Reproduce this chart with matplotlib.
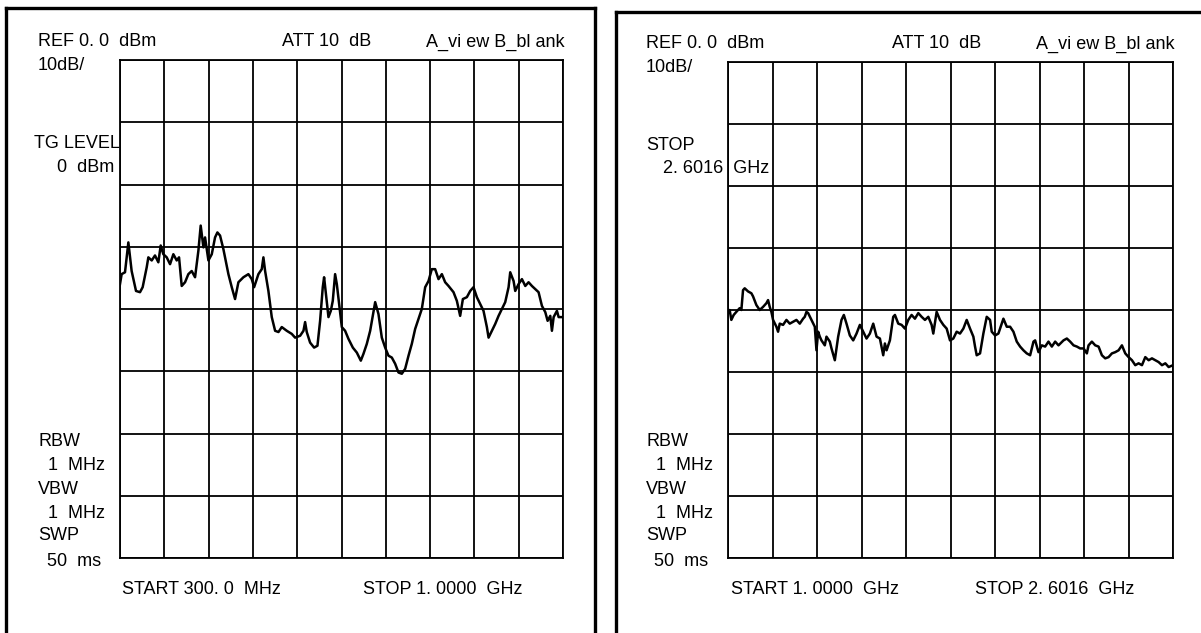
import numpy as np
import matplotlib
matplotlib.use("Agg")
import matplotlib.pyplot as plt
from matplotlib.lines import Line2D

# sweep 1: 300 MHz .. 1 GHz
freq1 = [300.0, 302.6, 307.9, 313.2, 318.4, 325.3, 331.6, 335.8, 342.2, 344.8,
         350.1, 355.3, 360.6, 364.3, 368.5, 373.8, 379.1, 384.3, 389.6, 393.3,
         397.5, 402.8, 408.0, 413.3, 418.6, 423.9, 427.5, 431.8, 434.4, 439.7,
         445.0, 450.2, 453.9, 458.1, 463.4, 471.3, 476.6, 481.8, 487.1, 495.0,
         502.9, 508.2, 511.9, 518.7, 524.0, 526.6, 529.3, 534.5, 539.8, 545.1,
         550.4, 555.6, 563.5, 571.4, 576.7, 584.6, 589.9, 592.5, 595.1, 600.4,
         606.7, 612.0, 616.2, 620.4, 622.5, 626.7, 629.4, 633.1, 636.2, 639.9,
         642.6, 646.8, 650.5, 655.7, 661.0, 667.9, 674.2, 680.5, 684.7, 690.0,
         695.3, 700.5, 703.2, 708.4, 713.7, 719.0, 724.2, 729.5, 734.8, 740.0,
         745.3, 750.6, 755.9, 761.1, 766.4, 771.7, 776.9, 782.2, 787.5, 792.7,
         798.0, 803.3, 808.6, 813.8, 819.1, 827.0, 832.3, 837.5, 841.8, 848.1,
         853.4, 858.6, 863.9, 869.2, 874.4, 879.7, 882.4, 887.6, 892.9, 898.2,
         903.4, 908.7, 914.0, 916.6, 921.9, 924.5, 929.8, 935.1, 940.4, 945.6,
         950.9, 956.2, 961.4, 966.7, 972.0, 975.7, 979.9, 982.5, 985.2, 990.4,
         993.1, 1000.0]
level1 = [-36.0, -34.4, -34.1, -29.3, -33.9, -37.1, -37.3, -36.5, -33.3, -31.7,
          -32.2, -31.4, -32.5, -29.8, -31.2, -31.7, -32.8, -31.2, -32.2, -31.7,
          -36.3, -35.7, -34.4, -33.9, -34.9, -30.6, -26.6, -30.1, -28.5, -32.2,
          -31.2, -28.5, -27.7, -28.2, -30.4, -34.4, -36.5, -38.4, -35.7, -34.9,
          -34.4, -35.2, -36.5, -34.4, -33.6, -31.7, -33.9, -37.1, -41.3, -43.5,
          -43.7, -42.9, -43.5, -44.0, -44.6, -44.3, -43.5, -42.1, -43.7, -45.4,
          -46.2, -45.9, -41.9, -36.5, -34.9, -38.7, -41.3, -40.3, -38.7, -34.4,
          -36.0, -39.7, -42.9, -43.5, -44.8, -46.2, -47.0, -48.3, -47.2, -45.6,
          -43.5, -40.5, -38.9, -40.8, -44.6, -46.2, -47.5, -47.8, -48.8, -50.2,
          -50.4, -49.6, -47.5, -45.6, -43.2, -41.6, -40.0, -36.5, -35.5, -33.6,
          -33.6, -35.2, -34.4, -35.7, -36.3, -37.3, -38.7, -41.1, -38.4, -38.1,
          -37.1, -36.5, -38.1, -39.2, -40.3, -42.9, -44.6, -43.5, -42.4, -41.1,
          -40.0, -38.9, -36.5, -34.1, -35.5, -37.1, -36.0, -35.2, -36.3, -35.7,
          -36.3, -36.8, -37.3, -39.5, -40.5, -41.9, -41.1, -43.5, -41.3, -40.3,
          -41.3, -41.3]

# sweep 2: 1 GHz .. 2.6016 GHz
freq2 = [1000.0, 1006.0, 1012.0, 1020.4, 1030.0, 1042.1, 1048.1, 1054.1, 1060.1, 1072.1,
         1084.1, 1090.1, 1102.1, 1114.1, 1126.2, 1138.2, 1144.2, 1150.2, 1156.2, 1162.2,
         1174.2, 1180.2, 1186.2, 1198.2, 1210.3, 1222.3, 1234.3, 1246.3, 1258.3, 1270.3,
         1276.3, 1282.4, 1288.4, 1300.4, 1312.4, 1318.4, 1324.4, 1330.4, 1336.4, 1348.4,
         1354.4, 1366.5, 1372.5, 1384.5, 1396.5, 1408.5, 1416.9, 1426.5, 1438.5, 1450.6,
         1462.6, 1474.6, 1486.6, 1498.6, 1510.6, 1522.7, 1534.7, 1546.7, 1558.7, 1564.7,
         1570.7, 1582.7, 1594.7, 1600.8, 1612.8, 1624.8, 1636.8, 1648.8, 1660.8, 1672.8,
         1684.9, 1696.9, 1708.9, 1720.9, 1732.9, 1738.9, 1750.9, 1763.0, 1775.0, 1787.0,
         1799.0, 1811.0, 1823.0, 1835.0, 1847.1, 1859.1, 1871.1, 1883.1, 1889.1, 1895.1,
         1907.1, 1919.1, 1931.2, 1943.2, 1949.2, 1961.2, 1973.2, 1991.2, 2003.3, 2015.3,
         2027.3, 2039.3, 2051.3, 2063.3, 2075.3, 2087.4, 2099.4, 2105.4, 2117.4, 2129.4,
         2141.4, 2153.4, 2165.5, 2177.5, 2189.5, 2207.5, 2219.5, 2231.5, 2243.6, 2255.6,
         2267.6, 2279.6, 2291.6, 2297.6, 2309.6, 2321.7, 2333.7, 2345.7, 2357.7, 2369.7,
         2381.7, 2393.7, 2405.8, 2417.8, 2429.8, 2441.8, 2453.8, 2465.8, 2477.8, 2489.9,
         2501.9, 2513.9, 2525.9, 2537.9, 2549.9, 2561.9, 2574.0, 2586.0, 2601.6]
level2 = [-40.5, -40.0, -41.6, -40.8, -40.3, -39.7, -40.0, -36.8, -36.5, -37.0,
          -37.3, -37.8, -39.2, -40.0, -39.5, -38.9, -38.4, -39.5, -40.3, -41.6,
          -42.7, -43.5, -42.2, -42.4, -41.6, -42.2, -41.9, -41.6, -42.2, -41.4,
          -41.1, -40.3, -40.5, -41.6, -42.7, -46.5, -43.5, -44.3, -44.9, -45.7,
          -44.3, -45.1, -46.2, -48.1, -44.3, -41.6, -40.8, -42.2, -44.1, -44.9,
          -43.8, -42.4, -43.5, -44.6, -43.8, -42.2, -44.3, -44.6, -47.3, -45.4,
          -46.5, -44.9, -41.1, -40.8, -42.2, -42.4, -43.0, -41.6, -40.8, -41.4,
          -40.5, -41.1, -41.6, -41.1, -42.4, -43.8, -40.3, -41.6, -42.4, -43.0,
          -44.9, -44.6, -43.5, -43.8, -43.0, -41.6, -43.0, -44.3, -45.9, -47.3,
          -47.0, -43.8, -41.1, -41.6, -43.5, -44.1, -43.8, -41.4, -42.7, -42.7,
          -43.5, -45.1, -45.9, -46.5, -47.0, -47.3, -45.1, -44.9, -46.8, -45.7,
          -45.9, -45.1, -45.9, -45.1, -45.7, -44.9, -44.6, -45.1, -45.7, -45.9,
          -46.2, -46.2, -47.0, -45.7, -45.1, -45.7, -45.9, -47.3, -47.8, -47.6,
          -47.0, -46.8, -46.5, -45.7, -47.0, -47.6, -48.1, -48.9, -48.6, -48.9,
          -47.6, -48.1, -47.8, -48.1, -48.4, -48.9, -48.6, -49.2, -48.9]

W, H = 1201, 633
FONT = ['Liberation Sans Narrow', 'Liberation Sans', 'DejaVu Sans']
FS = 13

fig = plt.figure(figsize=(W / 100, H / 100), dpi=100)


def put(x, y, s, ha='left'):
    fig.text(x / W, 1 - y / H, s, ha=ha, va='center', fontsize=FS, family=FONT, color='k')


def frame(x0, x1, ytop):
    kw = dict(transform=fig.transFigure, color='k', lw=2.4, solid_capstyle='projecting')
    fig.add_artist(Line2D([x0 / W, x0 / W], [0, 1 - ytop / H], **kw))
    fig.add_artist(Line2D([x0 / W, x1 / W], [1 - ytop / H, 1 - ytop / H], **kw))
    fig.add_artist(Line2D([x1 / W, x1 / W], [0, 1 - ytop / H], **kw))


def screen(rect, f0, f1, freq, level):
    ax = fig.add_axes(rect)
    ax.plot(freq, level, color='k', lw=1.8)
    ax.set_xlim(f0, f1)
    ax.set_ylim(-80, 0)
    ax.set_xticks(np.linspace(f0, f1, 11))
    ax.set_yticks(np.arange(-80, 1, 10))
    ax.grid(True, color='k', lw=1.3)
    ax.tick_params(length=0, labelbottom=False, labelleft=False)
    for sp in ax.spines.values():
        sp.set_linewidth(1.3)
    return ax


frame(6, 595, 8)
frame(616, 1205, 12)

screen([120 / W, 1 - 558 / H, 443 / W, 498 / H], 300, 1000, freq1, level1)
screen([728 / W, 1 - 558 / H, 445 / W, 496 / H], 1000, 2601.6, freq2, level2)

# left screen annotations
put(38, 42, 'REF 0. 0  dBm')
put(282, 42, 'ATT 10  dB')
put(565, 42, 'A_vi ew B_bl ank', ha='right')
put(38, 66, '10dB/')
put(120, 143, 'TG LEVEL', ha='right')
put(57, 167, '0  dBm')
put(38, 442, 'RBW')
put(48, 465, '1  MHz')
put(38, 489, 'VBW')
put(48, 514, '1  MHz')
put(38, 536, 'SWP')
put(47, 561, '50  ms')
put(122, 589, 'START 300. 0  MHz')
put(363, 589, 'STOP 1. 0000  GHz')

# right screen annotations
put(646, 44, 'REF 0. 0  dBm')
put(892, 44, 'ATT 10  dB')
put(1175, 44, 'A_vi ew B_bl ank', ha='right')
put(646, 68, '10dB/')
put(646, 145, 'STOP')
put(663, 168, '2. 6016  GHz')
put(646, 442, 'RBW')
put(656, 465, '1  MHz')
put(646, 489, 'VBW')
put(656, 514, '1  MHz')
put(646, 536, 'SWP')
put(654, 561, '50  ms')
put(731, 589, 'START 1. 0000  GHz')
put(975, 589, 'STOP 2. 6016  GHz')

fig.savefig('out.png', dpi=100)
